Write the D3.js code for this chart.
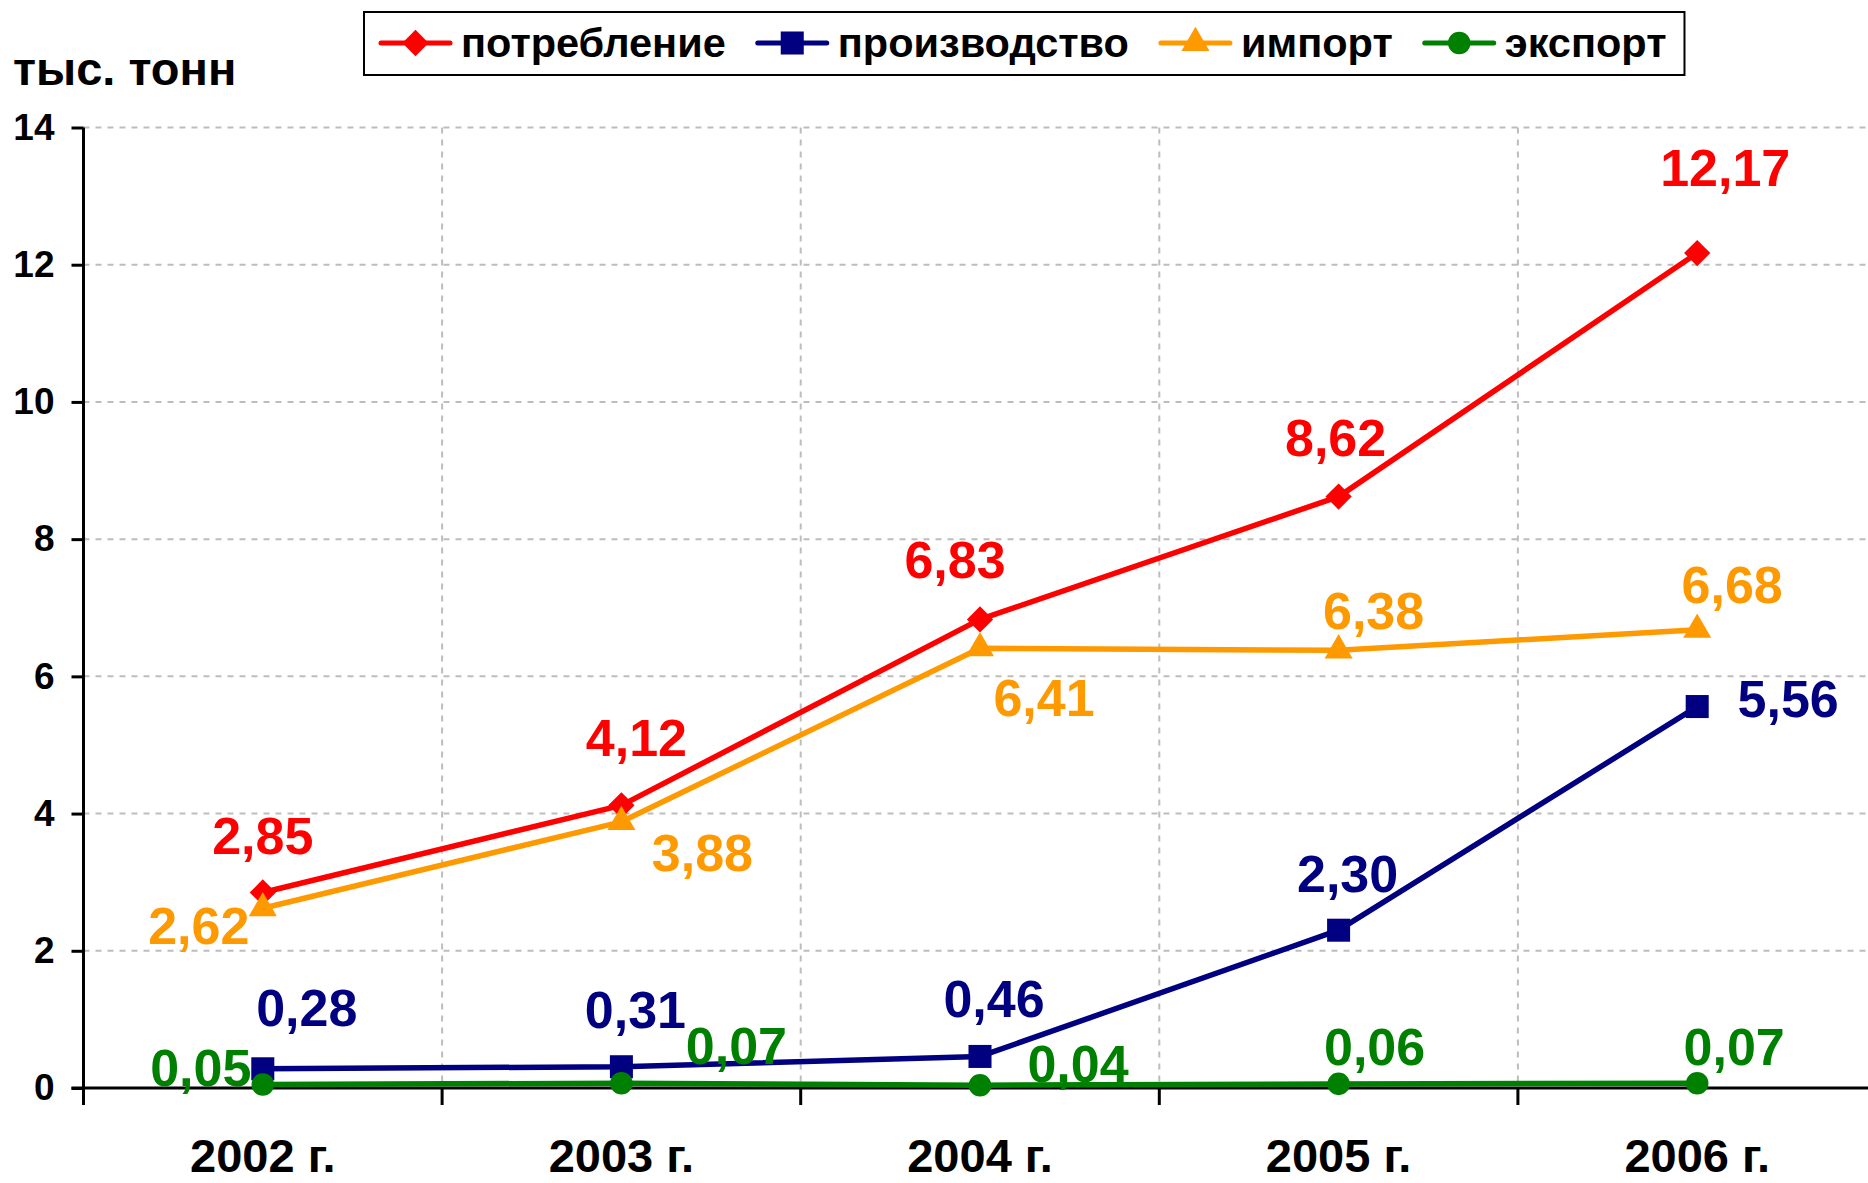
<!DOCTYPE html>
<html>
<head>
<meta charset="utf-8">
<script src="https://cdn.jsdelivr.net/npm/d3@7"></script>
<style>
    html, body { margin: 0; padding: 0; background: #fff; }
    svg { display: block; font-family: "Liberation Sans", Arial, Helvetica, sans-serif; font-weight: bold; }
</style>
</head>
<body>
<div id="chart"></div>
<script>
// data
var years = ['2002 г.', '2003 г.', '2004 г.', '2005 г.', '2006 г.'];
var yTicks = [0, 2, 4, 6, 8, 10, 12, 14];
var seriesNames = ['потребление', 'производство', 'импорт', 'экспорт'];
var consumption = [2.85, 4.12, 6.83, 8.62, 12.17];
var production = [0.28, 0.31, 0.46, 2.30, 5.56];
var imports = [2.62, 3.88, 6.41, 6.38, 6.68];
var exports = [0.05, 0.07, 0.04, 0.06, 0.07];
var unitLabel = 'тыс. тонн';

// label placement (px offsets from the marker), per series
var labelShift = [
    [[0, -57], [15, -68], [-25, -60], [-3, -59], [28, -86]],
    [[44, -62], [14, -57], [14, -58], [9, -57], [91, -8]],
    [[-64, 17], [81, 30], [64, 49], [35, -40], [35, -45]],
    [[-62, -17], [115, -38], [98, -22], [36, -38], [37, -37]]
];

var width = 1868,
    height = 1183,
    plotLeft = 83.5,
    band = 358.6,
    plotTop = 127.5,
    plotBottom = 1088;

var series = [
    {name: seriesNames[0], values: consumption, color: '#ff0000', symbol: d3.symbolDiamond2, size: 440},
    {name: seriesNames[1], values: production, color: '#000080', symbol: d3.symbolSquare, size: 530},
    {name: seriesNames[2], values: imports, color: '#ff9900', symbol: d3.symbolTriangle, size: 340},
    {name: seriesNames[3], values: exports, color: '#008000', symbol: d3.symbolCircle, size: 400}
];

var ru = d3.formatLocale({decimal: ',', thousands: ' ', grouping: [3], currency: ['', '']}),
    fmt = ru.format('.2f');

var x = d3.scaleBand().domain(years).range([plotLeft, plotLeft + band * years.length]).paddingInner(0).paddingOuter(0),
    y = d3.scaleLinear().domain([0, 14]).range([plotBottom, plotTop]);

var cx = function (i) {
    return x(years[i]) + x.bandwidth() / 2;
};

var svg = d3.select('#chart').append('svg')
    .attr('width', width)
    .attr('height', height);

// grid
svg.append('g').attr('class', 'grid-h')
    .selectAll('line')
    .data(yTicks.slice(1))
    .enter().append('line')
    .attr('x1', plotLeft)
    .attr('x2', width)
    .attr('y1', function (d) { return y(d); })
    .attr('y2', function (d) { return y(d); })
    .style('stroke', '#bdbdbd')
    .style('stroke-width', 2)
    .style('stroke-dasharray', '6,6');

svg.append('g').attr('class', 'grid-v')
    .selectAll('line')
    .data(years.slice(1))
    .enter().append('line')
    .attr('x1', function (d) { return x(d); })
    .attr('x2', function (d) { return x(d); })
    .attr('y1', plotTop)
    .attr('y2', plotBottom)
    .style('stroke', '#bdbdbd')
    .style('stroke-width', 2)
    .style('stroke-dasharray', '6,6');

// y axis
var yAxis = svg.append('g')
    .attr('transform', 'translate(' + plotLeft + ',0)')
    .call(d3.axisLeft(y).tickValues(yTicks).tickSize(12).tickSizeOuter(0).tickPadding(17).tickFormat(d3.format('d')));
yAxis.select('.domain').remove();
yAxis.selectAll('.tick line').style('stroke', '#000').style('stroke-width', 3);
yAxis.selectAll('.tick text')
    .style('font-size', '37px')
    .style('font-weight', 'bold')
    .style('font-family', '"Liberation Sans", Arial, sans-serif')
    .attr('fill', '#000');

// x axis labels (centred in bands), ticks at band edges
var xAxis = svg.append('g')
    .attr('transform', 'translate(0,' + plotBottom + ')')
    .call(d3.axisBottom(x).tickSize(0).tickPadding(51));
xAxis.select('.domain').remove();
xAxis.selectAll('.tick text')
    .style('font-size', '47px')
    .style('font-weight', 'bold')
    .style('font-family', '"Liberation Sans", Arial, sans-serif')
    .attr('fill', '#000');

svg.append('g').selectAll('line')
    .data(years.slice(1))
    .enter().append('line')
    .attr('x1', function (d) { return x(d); })
    .attr('x2', function (d) { return x(d); })
    .attr('y1', plotBottom)
    .attr('y2', plotBottom + 17)
    .style('stroke', '#000')
    .style('stroke-width', 3);

svg.append('line')
    .attr('x1', plotLeft - 12).attr('x2', width)
    .attr('y1', plotBottom).attr('y2', plotBottom)
    .style('stroke', '#000').style('stroke-width', 3);
svg.append('line')
    .attr('x1', plotLeft).attr('x2', plotLeft)
    .attr('y1', plotTop).attr('y2', plotBottom + 17)
    .style('stroke', '#000').style('stroke-width', 3);

// unit title
svg.append('text')
    .attr('x', 13)
    .attr('y', 85)
    .style('font-size', '47px')
    .text(unitLabel);

// lines + markers
var line = d3.line()
    .x(function (d, i) { return cx(i); })
    .y(function (d) { return y(d); });

var groups = svg.append('g').attr('class', 'series')
    .selectAll('g')
    .data(series)
    .enter().append('g');

groups.append('path')
    .attr('d', function (s) { return line(s.values); })
    .style('fill', 'none')
    .style('stroke', function (s) { return s.color; })
    .style('stroke-width', 5.5)
    .style('stroke-linejoin', 'round');

groups.each(function (s) {
    d3.select(this).selectAll('path.mark')
        .data(s.values)
        .enter().append('path')
        .attr('class', 'mark')
        .attr('transform', function (d, i) { return 'translate(' + cx(i) + ',' + y(d) + ')'; })
        .attr('d', d3.symbol().type(s.symbol).size(s.size))
        .style('fill', s.color);
});

// value labels
groups.each(function (s, k) {
    d3.select(this).selectAll('text.val')
        .data(s.values)
        .enter().append('text')
        .attr('class', 'val')
        .attr('x', function (d, i) { return cx(i) + labelShift[k][i][0]; })
        .attr('y', function (d, i) { return y(d) + labelShift[k][i][1]; })
        .attr('dy', '0.36em')
        .attr('text-anchor', 'middle')
        .style('font-size', '52px')
        .style('fill', s.color)
        .text(function (d) { return fmt(d); });
});

// legend
var legend = svg.append('g').attr('class', 'legend');
var legendBox = legend.append('rect')
    .attr('y', 12)
    .attr('height', 63)
    .style('fill', '#fff')
    .style('stroke', '#000')
    .style('stroke-width', 2);

var lx = 381, ly = 43;
series.forEach(function (s) {
    var item = legend.append('g');
    item.append('line')
        .attr('x1', lx).attr('x2', lx + 69)
        .attr('y1', ly).attr('y2', ly)
        .style('stroke', s.color)
        .style('stroke-width', 5)
        .style('stroke-linecap', 'round');
    item.append('path')
        .attr('transform', 'translate(' + (lx + 34.5) + ',' + ly + ')')
        .attr('d', d3.symbol().type(s.symbol).size(s.size))
        .style('fill', s.color);
    var t = item.append('text')
        .attr('x', lx + 80)
        .attr('y', ly)
        .attr('dy', '0.33em')
        .style('font-size', '41.5px')
        .text(s.name);
    lx = lx + 80 + t.node().getComputedTextLength() + 32;
});
legendBox.attr('x', 364).attr('width', lx - 32 + 18 - 364);
</script>
</body>
</html>
